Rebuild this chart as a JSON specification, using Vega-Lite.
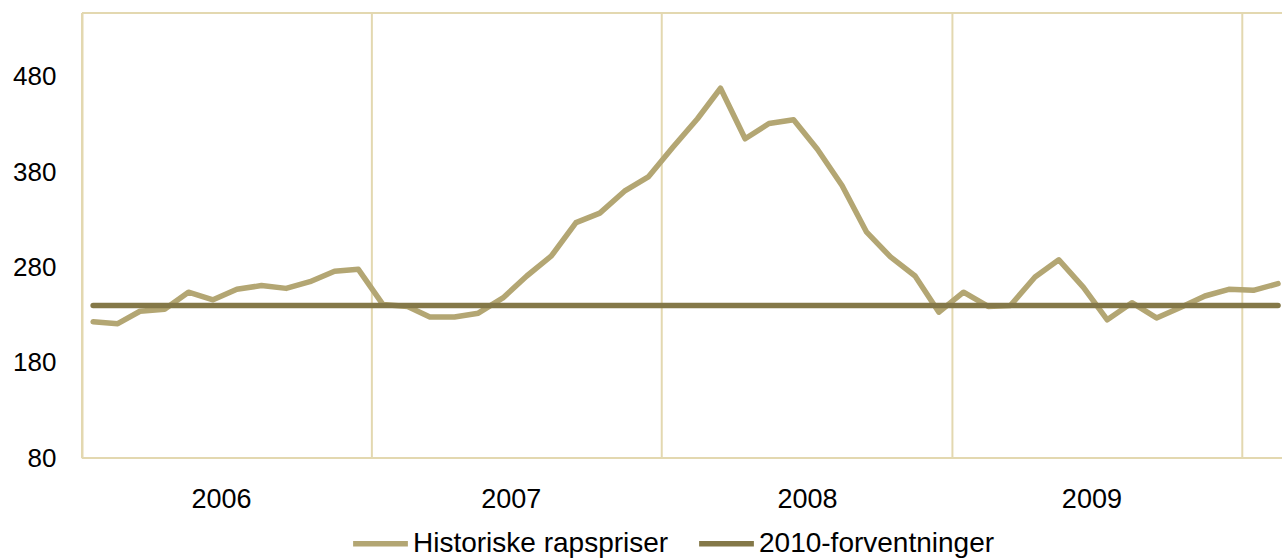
{
  "$schema": "https://vega.github.io/schema/vega-lite/v6.json",
  "autosize": "none",
  "width": 1200,
  "height": 445,
  "padding": {"left": 82, "top": 13, "right": 0, "bottom": 100},
  "background": "white",
  "config": {
    "font": "Liberation Sans",
    "view": {"stroke": null}
  },
  "datasets": {
    "hist": [
      {"date": "2006-01-15", "value": 223}, {"date": "2006-02-15", "value": 221},
      {"date": "2006-03-15", "value": 234}, {"date": "2006-04-15", "value": 236},
      {"date": "2006-05-15", "value": 254}, {"date": "2006-06-15", "value": 246},
      {"date": "2006-07-15", "value": 257}, {"date": "2006-08-15", "value": 261},
      {"date": "2006-09-15", "value": 258}, {"date": "2006-10-15", "value": 265},
      {"date": "2006-11-15", "value": 276}, {"date": "2006-12-15", "value": 278},
      {"date": "2007-01-15", "value": 241}, {"date": "2007-02-15", "value": 239},
      {"date": "2007-03-15", "value": 228}, {"date": "2007-04-15", "value": 228},
      {"date": "2007-05-15", "value": 232}, {"date": "2007-06-15", "value": 248},
      {"date": "2007-07-15", "value": 271}, {"date": "2007-08-15", "value": 292},
      {"date": "2007-09-15", "value": 327}, {"date": "2007-10-15", "value": 337},
      {"date": "2007-11-15", "value": 360}, {"date": "2007-12-15", "value": 375},
      {"date": "2008-01-15", "value": 406}, {"date": "2008-02-15", "value": 436},
      {"date": "2008-03-15", "value": 468}, {"date": "2008-04-15", "value": 415},
      {"date": "2008-05-15", "value": 431}, {"date": "2008-06-15", "value": 435},
      {"date": "2008-07-15", "value": 404}, {"date": "2008-08-15", "value": 366},
      {"date": "2008-09-15", "value": 317}, {"date": "2008-10-15", "value": 291},
      {"date": "2008-11-15", "value": 271}, {"date": "2008-12-15", "value": 233},
      {"date": "2009-01-15", "value": 254}, {"date": "2009-02-15", "value": 239},
      {"date": "2009-03-15", "value": 240}, {"date": "2009-04-15", "value": 270},
      {"date": "2009-05-15", "value": 288}, {"date": "2009-06-15", "value": 259},
      {"date": "2009-07-15", "value": 225}, {"date": "2009-08-15", "value": 243},
      {"date": "2009-09-15", "value": 227}, {"date": "2009-10-15", "value": 238},
      {"date": "2009-11-15", "value": 250}, {"date": "2009-12-15", "value": 257},
      {"date": "2010-01-15", "value": 256}, {"date": "2010-02-15", "value": 263}
    ],
    "forecast": [
      {"date": "2006-01-15", "value": 240},
      {"date": "2010-02-15", "value": 240}
    ],
    "years": [
      {"date": "2006-01-01"}, {"date": "2007-01-01"}, {"date": "2008-01-01"},
      {"date": "2009-01-01"}, {"date": "2010-01-01"}
    ]
  },
  "encoding": {
    "x": {
      "field": "date",
      "type": "temporal",
      "scale": {
        "type": "utc",
        "domain": [
          {"year": 2006, "month": 1, "date": 1, "utc": true},
          {"year": 2010, "month": 2, "date": 20, "utc": true}
        ]
      },
      "axis": {
        "title": null,
        "grid": false,
        "domain": false,
        "ticks": false,
        "values": [
          {"year": 2006, "month": 6, "date": 25, "utc": true},
          {"year": 2007, "month": 6, "date": 25, "utc": true},
          {"year": 2008, "month": 7, "date": 2, "utc": true},
          {"year": 2009, "month": 6, "date": 25, "utc": true}
        ],
        "labelExpr": "utcFormat(datum.value, '%Y')",
        "labelFont": "Liberation Sans",
        "labelFontSize": 27,
        "labelColor": "#000000",
        "labelPadding": 28,
        "labelFlush": false
      }
    }
  },
  "layer": [
    {
      "data": {"name": "years"},
      "mark": {"type": "rule", "color": "#E3D8B0", "strokeWidth": 2},
      "encoding": {
        "x": {"field": "date", "type": "temporal"}
      }
    },
    {
      "data": {"name": "hist"},
      "transform": [{"calculate": "'Historiske rapspriser'", "as": "serie"}],
      "mark": {"type": "line", "strokeWidth": 5.5, "strokeCap": "round", "strokeJoin": "round", "clip": true},
      "encoding": {
        "y": {
          "field": "value",
          "type": "quantitative",
          "scale": {"domain": [80, 547], "nice": false, "zero": false},
          "axis": {
            "title": null,
            "values": [80, 180, 280, 380, 480],
            "grid": false,
            "ticks": false,
            "domain": true,
            "domainColor": "#E3D8B0",
            "domainWidth": 2,
            "labelFont": "Liberation Sans",
            "labelFontSize": 26,
            "labelColor": "#000000",
            "labelPadding": 26
          }
        },
        "color": {
          "field": "serie",
          "type": "nominal",
          "scale": {
            "domain": ["Historiske rapspriser", "2010-forventninger"],
            "range": ["#B3A673", "#847848"]
          },
          "legend": {
            "title": null,
            "orient": "none",
            "direction": "horizontal",
            "legendX": 268,
            "legendY": 500,
            "symbolType": "stroke",
            "symbolStrokeWidth": 5.5,
            "symbolSize": 3000,
            "labelFontSize": 28,
            "labelFont": "Liberation Sans",
            "labelColor": "#000000",
            "labelOffset": 2,
            "labelLimit": 0,
            "columnPadding": 19
          }
        }
      }
    },
    {
      "data": {"name": "forecast"},
      "transform": [{"calculate": "'2010-forventninger'", "as": "serie"}],
      "mark": {"type": "line", "strokeWidth": 5.5, "strokeCap": "round"},
      "encoding": {
        "y": {"field": "value", "type": "quantitative"},
        "color": {"field": "serie", "type": "nominal"}
      }
    },
    {
      "data": {"values": [{"a": 1}]},
      "mark": {"type": "rule", "color": "#E3D8B0", "strokeWidth": 2},
      "encoding": {
        "x": {"value": 0},
        "x2": {"value": 1200},
        "y": {"value": 0}
      }
    },
    {
      "data": {"values": [{"a": 1}]},
      "mark": {"type": "rule", "color": "#E3D8B0", "strokeWidth": 2},
      "encoding": {
        "x": {"value": 0},
        "x2": {"value": 1200},
        "y": {"value": 445}
      }
    }
  ]
}
